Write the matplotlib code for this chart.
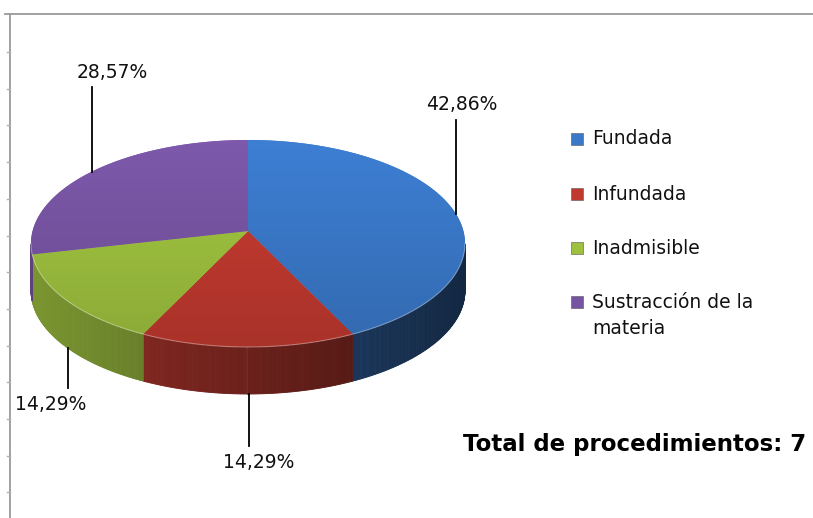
"""3D-style pie chart of procedure outcomes."""

import matplotlib

matplotlib.use("Agg")
import matplotlib.pyplot as plt
import numpy as np
from matplotlib.colors import to_rgb
from matplotlib.patches import Polygon

categories = ["Fundada", "Infundada", "Inadmisible", "Sustracción de la\nmateria"]
counts = [3, 1, 1, 2]
top_colors = ["#3a78c8", "#c0392f", "#9dc03e", "#7754a2"]
total_label = "Total de procedimientos: 7"

# pie geometry in pixel coordinates
CX, CY = 248, 243.5
A, B = 217, 103.5
DEPTH = 47
BETA = -0.12  # perspective shift of the pie centre

# x of the leader line and y of the label text, per slice
label_pos = [(456, 105), (249, 463), (68, 405), (92, 72)]
label_x_text = [462, 259, 51, 112]

FONT = "DejaVu Sans"

fig = plt.figure(figsize=(8.13, 5.18), dpi=100)
ax = fig.add_axes([0, 0, 1, 1])
ax.set_xlim(0, 813)
ax.set_ylim(518, 0)
ax.axis("off")

# frame lines of the chart area
ax.plot([5, 813], [14, 14], color="#9a9a9a", lw=1.3)
ax.plot([10, 10], [14, 518], color="#9a9a9a", lw=1.3)
for ty in np.arange(52, 500, 36.7):
    ax.plot([7, 10], [ty, ty], color="#b0b0b0", lw=1)


def ellipse_pt(theta_deg, dy=0.0):
    """Screen point of the rim at 3D angle theta (clockwise from top)."""
    t = np.radians(theta_deg)
    u, v = np.sin(t), -np.cos(t)
    den = 1 + BETA * v
    u2 = u * np.sqrt(1 - BETA ** 2) / den
    v2 = (v + BETA) / den
    return CX + A * u2, CY + B * v2 + dy


VX, VY = CX, CY + B * BETA

fractions = np.array(counts) / sum(counts)
edges = np.concatenate([[0], np.cumsum(fractions) * 360])
vis_lo = np.degrees(np.arccos(BETA))
vis_hi = 360 - vis_lo


def side_shade(x):
    # lighter on the left, darker on the right
    return 0.78 - 0.45 * (x - (CX - A)) / (2 * A)


# side faces (front half only)
for i, color in enumerate(top_colors):
    lo = max(edges[i], vis_lo)
    hi = min(edges[i + 1], vis_hi)
    if hi <= lo:
        continue
    ts = np.linspace(lo, hi, int((hi - lo) * 2) + 2)
    rgb = np.array(to_rgb(color))
    for t0, t1 in zip(ts[:-1], ts[1:]):
        x0, y0 = ellipse_pt(t0)
        x1, y1 = ellipse_pt(t1)
        c = np.clip(rgb * side_shade((x0 + x1) / 2), 0, 1)
        quad = [(x0, y0), (x1, y1), (x1, y1 + DEPTH), (x0, y0 + DEPTH)]
        ax.add_patch(Polygon(quad, closed=True, facecolor=c, edgecolor=c, lw=0.6))

# top faces with a soft vertical gradient
ymin, ymax = CY - B, CY + B
grad = np.linspace(1.06, 0.88, 200)[:, None]
for i, color in enumerate(top_colors):
    ts = np.linspace(edges[i], edges[i + 1], 200)
    pts = [(VX, VY)] + [ellipse_pt(t) for t in ts]
    poly = Polygon(pts, closed=True, facecolor=color, edgecolor="none")
    ax.add_patch(poly)
    rgb = np.array(to_rgb(color))
    img = np.clip(grad[:, :, None] * rgb[None, None, :], 0, 1)
    img = np.repeat(img, 2, axis=1)
    im = ax.imshow(img, extent=(CX - A - 2, CX + A + 2, ymax + 2, ymin - 2),
                   aspect="auto", interpolation="bilinear", zorder=2)
    im.set_clip_path(poly)

# thin light rim on the front edge of the top face
ts = np.linspace(vis_lo, vis_hi, 200)
rim = np.array([ellipse_pt(t) for t in ts])
ax.plot(rim[:, 0], rim[:, 1], color="white", lw=0.8, alpha=0.35, zorder=3)

# data labels with leader lines
for i, frac in enumerate(fractions):
    mid = (edges[i] + edges[i + 1]) / 2
    lx, ly = label_pos[i]
    s = np.clip((lx - CX) / A, -1, 1)
    yc = B * np.sqrt(1 - s ** 2)
    if 90 < mid < 270:
        y_edge = CY + yc + DEPTH
        ax.plot([lx, lx], [y_edge, ly - 17], color="black", lw=1.3, zorder=4)
    else:
        y_edge = CY - yc
        ax.plot([lx, lx], [ly + 15, y_edge], color="black", lw=1.3, zorder=4)
    text = f"{frac * 100:.2f}%".replace(".", ",")
    ax.text(label_x_text[i], ly, text, ha="center", va="center",
            fontsize=13.5, family=FONT, color="#111111", zorder=5)

# legend
leg_y = [139, 194, 248, 302]
for color, name, y in zip(top_colors, categories, leg_y):
    ax.add_patch(Polygon([(571, y - 6), (583, y - 6), (583, y + 6), (571, y + 6)],
                         closed=True, facecolor=color, edgecolor="#555555", lw=0.4))
    for j, line in enumerate(name.split("\n")):
        ax.text(592, y + 27 * j, line, ha="left", va="center",
                fontsize=13.5, family=FONT, color="#111111")

ax.text(806, 444, total_label, ha="right", va="center", fontsize=16.5,
        fontweight="bold", family=FONT, color="black")

fig.savefig("out.png", dpi=100)
